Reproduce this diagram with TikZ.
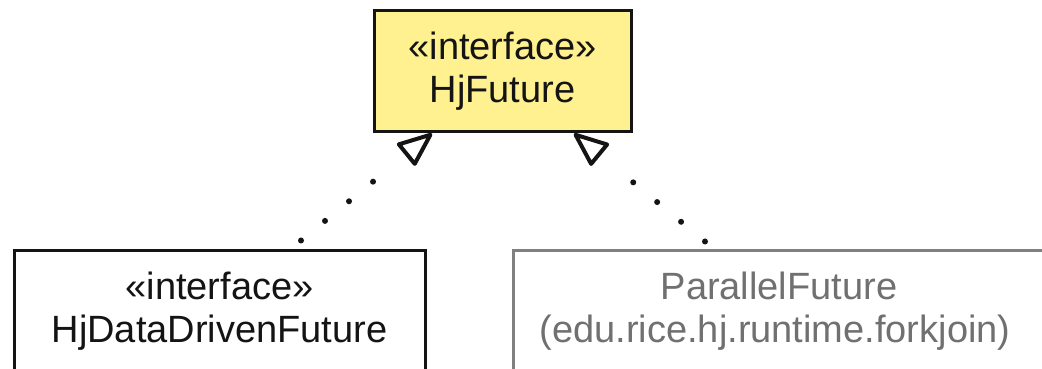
\documentclass[tikz,border=0pt]{standalone}
\usepackage{fontspec}
\setmainfont{Liberation Sans}
\usetikzlibrary{arrows.meta}
\definecolor{ifyellow}{RGB}{255,241,143}
\definecolor{grayline}{RGB}{128,128,128}
\definecolor{graytext}{RGB}{112,112,112}
\definecolor{inkdark}{RGB}{20,20,20}
\tikzset{
  umlbox/.style={draw=inkdark, text=inkdark, line width=3pt, inner sep=0pt, minimum height=121pt,
    align=center, font=\fontsize{38}{43}\selectfont},
  realize/.style={draw=inkdark, line width=6pt, line cap=round,
    dash pattern=on 0pt off 31pt on 0pt off 31pt on 0pt off 31pt on 0pt off 300pt,
    -{Triangle[open, length=38pt, width=30pt, line width=4pt, round]}}
}
\begin{document}
\begin{tikzpicture}[x=1pt,y=1pt]
\useasboundingbox (0,0) rectangle (1042,369);
\clip (0,0) rectangle (1042,369);
\fill[white] (0,0) rectangle (1042,369);
\node[umlbox, fill=ifyellow, minimum width=257pt] (top) at (502.5,297.5) {«interface»\\HjFuture};
\node[umlbox, minimum width=411pt] (lb) at (219.5,57.5) {«interface»\\HjDataDrivenFuture};
\node[umlbox, draw=grayline, text=graytext, minimum width=532pt] (rb) at (779,57.5) {ParallelFuture\\(edu.rice.hj.runtime.forkjoin)\hspace*{8pt}};
\draw[realize] ([xshift=81.5pt, yshift=9pt]lb.north) -- ([xshift=-70.5pt]top.south);
\draw[realize] ([xshift=-74pt, yshift=8pt]rb.north) -- ([xshift=71.5pt]top.south);
\end{tikzpicture}
\end{document}
